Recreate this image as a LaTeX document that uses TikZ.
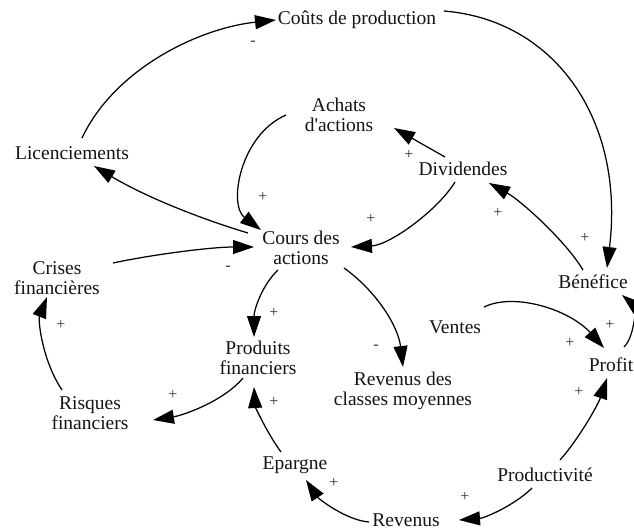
\documentclass[tikz,border=0pt]{standalone}
\usepackage{fontspec}
\setmainfont{Liberation Serif}[Ligatures=TeXOff]
\usetikzlibrary{arrows.meta}
\begin{document}
\begin{tikzpicture}[x=1pt,y=-1pt,
  var/.style={inner sep=0pt, align=center, font=\fontsize{19.5}{20}\selectfont, text=black!92},
  link/.style={line width=1.25pt, -{Triangle[length=21pt,width=14pt]}},
  sgn/.style={inner sep=0pt, font=\fontsize{16}{16}\selectfont, text=black!80}]
\useasboundingbox (0,0) rectangle (634,531);

% variables
\node[var] (cout)    at (357,20)  {Coûts de production};
\node[var] (lic)     at (72,153)  {Licenciements};
\node[var] (ach)     at (339,115) {Achats\\d'actions};
\node[var] (div)     at (463,169) {Dividendes};
\node[var] (cours)   at (301,248) {Cours des\\actions};
\node[var] (crises)  at (57,278)  {Crises\\financières};
\node[var] (ben)     at (593,282) {Bénéfice};
\node[var] (ventes)  at (455,327) {Ventes};
\node[var] (profit)  at (611,365) {Profit};
\node[var] (prod)    at (258,358) {Produits\\financiers};
\node[var] (rev)     at (403,391) {Revenus des\\classes moyennes};
\node[var] (risq)    at (90,413)  {Risques\\financiers};
\node[var] (epar)    at (295,465) {Epargne};
\node[var] (produc)  at (545,475) {Productivité};
\node[var] (revenus) at (406,520) {Revenus};

% causal links
\draw[link] ([shift={(10,-15)}]lic.center) .. controls (115,68) and (200,28) .. ([shift={(-81,0)}]cout.center);
\draw[link] ([shift={(87,-9)}]cout.center) .. controls (555,20) and (625,120) .. ([shift={(14,-14)}]ben.center);
\draw[link] ([shift={(-53,-15)}]cours.center) .. controls (198,218) and (144,196) .. ([shift={(22,13)}]lic.center);
\draw[link] ([shift={(56,-15)}]crises.center) .. controls (150,255) and (210,247) .. ([shift={(-47,-1)}]cours.center);
\draw[link] ([shift={(-53,0)}]ach.center) .. controls (240,135) and (228,205) .. ([shift={(-40,-18)}]cours.center);
\draw[link] ([shift={(-18,-12)}]div.center) -- ([shift={(55,13)}]ach.center);
\draw[link] ([shift={(-8,13)}]div.center) .. controls (438,210) and (390,245) .. ([shift={(50,-1)}]cours.center);
\draw[link] ([shift={(-10,-12)}]ben.center) .. controls (565,240) and (520,200) .. ([shift={(26,14)}]div.center);
\draw[link] ([shift={(29,-20)}]ventes.center) .. controls (515,292) and (570,310) .. ([shift={(-7,-17)}]profit.center);
\draw[link] ([shift={(13,-18)}]profit.center) .. controls (636,335) and (634,305) .. ([shift={(29,13)}]ben.center);
\draw[link] ([shift={(15,-15)}]produc.center) .. controls (578,440) and (598,405) .. ([shift={(-4,13)}]profit.center);
\draw[link] ([shift={(-13,13)}]produc.center) .. controls (515,505) and (485,518) .. ([shift={(53,0)}]revenus.center);
\draw[link] ([shift={(-37,2)}]revenus.center) .. controls (345,520) and (318,498) .. ([shift={(11,15)}]epar.center);
\draw[link] ([shift={(-14,-13)}]epar.center) .. controls (265,430) and (255,405) .. ([shift={(-4,29)}]prod.center);
\draw[link] ([shift={(-15,20)}]prod.center) .. controls (225,400) and (185,415) .. ([shift={(63,7)}]risq.center);
\draw[link] ([shift={(-28,-23)}]risq.center) .. controls (42,360) and (38,320) .. ([shift={(-10,19)}]crises.center);
\draw[link] ([shift={(-23,22)}]cours.center) .. controls (262,285) and (254,310) .. ([shift={(-4,-21)}]prod.center);
\draw[link] ([shift={(43,20)}]cours.center) .. controls (375,290) and (398,325) .. ([shift={(0,-24)}]rev.center);

% polarity signs
\node[sgn] (p1)  at (253,43)  {-};
\node[sgn] (p2)  at (585,238) {+};
\node[sgn] (p3)  at (228,268) {-};
\node[sgn] (p4)  at (263,197) {+};
\node[sgn] (p5)  at (409,155) {+};
\node[sgn] (p6)  at (371,219) {+};
\node[sgn] (p7)  at (498,213) {+};
\node[sgn] (p8)  at (570,343) {+};
\node[sgn] (p9)  at (610,325) {+};
\node[sgn] (p10) at (579,392) {+};
\node[sgn] (p11) at (465,497) {+};
\node[sgn] (p12) at (334,483) {+};
\node[sgn] (p13) at (274,402) {+};
\node[sgn] (p14) at (173,395) {+};
\node[sgn] (p15) at (61,325)  {+};
\node[sgn] (p16) at (274,313) {+};
\node[sgn] (p17) at (376,347) {-};
\end{tikzpicture}
\end{document}
